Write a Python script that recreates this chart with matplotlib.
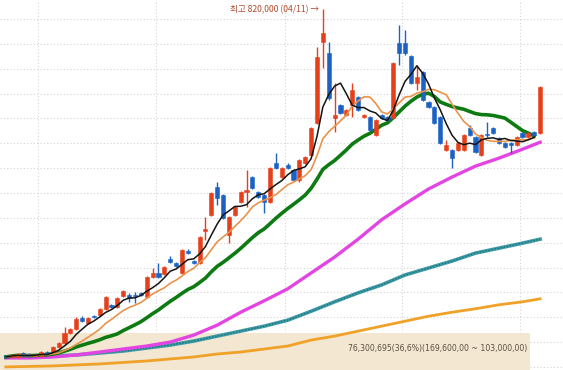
import numpy as np
import pandas as pd
import matplotlib
matplotlib.use("Agg")
import matplotlib.pyplot as plt
from matplotlib.patches import Rectangle

# daily candles, prices in thousand won (red = up, blue = down)
opens = [122, 120, 120, 128, 126, 122, 122, 130, 130, 140,
         148, 168, 176, 198, 188, 202, 204, 217, 225, 221,
         243, 245, 245, 249, 241, 281, 289, 287, 317, 309,
         289, 333, 313, 309, 373, 406, 462, 446, 365, 406,
         432, 452, 482, 452, 446, 432, 510, 482, 506, 496,
         476, 510, 526, 591, 754, 732, 601, 627, 607, 627,
         643, 603, 603, 567, 607, 603, 601, 752, 752, 726,
         671, 693, 633, 623, 603, 536, 536, 536, 536, 581,
         563, 526, 569, 581, 561, 551, 551, 546, 571, 563,
         573, 571]
highs = [124, 126, 128, 130, 128, 126, 132, 132, 142, 150,
         180, 178, 200, 202, 200, 204, 219, 243, 227, 241,
         255, 249, 251, 251, 283, 299, 309, 303, 323, 311,
         337, 337, 315, 363, 402, 452, 472, 448, 404, 424,
         454, 496, 484, 454, 448, 502, 530, 502, 510, 498,
         518, 524, 583, 744, 820, 754, 671, 629, 619, 671,
         645, 609, 605, 599, 609, 605, 713, 788, 778, 728,
         707, 695, 635, 625, 605, 557, 538, 553, 569, 587,
         565, 569, 593, 583, 563, 553, 553, 565, 573, 573,
         575, 665]
lows = [118, 118, 118, 120, 120, 120, 120, 124, 128, 138,
        146, 166, 174, 190, 186, 198, 202, 215, 219, 219,
        241, 231, 229, 243, 239, 279, 279, 285, 309, 301,
        287, 327, 307, 307, 355, 404, 426, 398, 349, 404,
        430, 422, 458, 440, 410, 430, 498, 480, 498, 474,
        472, 508, 524, 589, 701, 637, 573, 609, 605, 603,
        615, 601, 575, 565, 599, 595, 599, 707, 728, 669,
        657, 635, 621, 589, 549, 534, 500, 534, 534, 565,
        530, 524, 563, 569, 549, 540, 530, 544, 561, 561,
        565, 569]
closes = [120, 124, 126, 122, 122, 124, 130, 126, 140, 148,
          168, 176, 196, 192, 198, 200, 217, 241, 221, 239,
          253, 239, 243, 245, 281, 289, 281, 301, 311, 303,
          335, 329, 309, 361, 377, 450, 440, 400, 402, 422,
          452, 456, 460, 442, 432, 500, 500, 500, 500, 476,
          516, 522, 581, 724, 772, 641, 607, 611, 617, 657,
          617, 607, 577, 597, 601, 597, 711, 732, 732, 671,
          683, 637, 623, 591, 551, 546, 520, 551, 567, 567,
          532, 567, 567, 571, 551, 542, 546, 563, 563, 571,
          567, 663]

# long moving averages every 4 candles
ma_idx = [0, 4, 8, 12, 16, 20, 24, 28, 32, 36, 40, 44,
          48, 52, 56, 60, 64, 68, 72, 76, 80, 84, 88, 91]
ma60 = [118, 118, 120, 124, 130, 136, 142, 150, 164, 184, 210, 233,
        257, 289, 321, 357, 396, 428, 458, 482, 504, 520, 538, 552]
ma120 = [120, 121, 122, 124, 128, 132, 138, 144, 152, 162, 172, 182,
         194, 212, 231, 249, 265, 285, 299, 313, 329, 339, 349, 357]
ma240 = [100, 101, 102, 104, 106, 109, 112, 116, 120, 126, 130, 136,
         142, 154, 162, 172, 182, 192, 202, 210, 217, 225, 231, 237]

grid_prices = list(range(100, 850, 50))
month_breaks = [5.5, 25.5, 47.5, 67.5, 87.5]

RED = "#e5401b"
BLUE = "#1c62c4"

x = np.arange(len(closes))
o = np.array(opens)
c = np.array(closes)
up = c >= o
colors = np.where(up, RED, BLUE)

fig = plt.figure(figsize=(5.63, 3.70), dpi=100)
ax = fig.add_axes([0, 0, 1, 1])
ax.set_xlim(-0.99, 94.9)
ax.set_ylim(93.8, 838.2)
ax.set_axis_off()

for gp in grid_prices:
    ax.axhline(gp, color="#d4d4d4", lw=0.8, ls=(0, (1, 2)), zorder=1)
for mb in month_breaks:
    ax.axvline(mb, color="#d4d4d4", lw=0.8, ls=(0, (1, 2)), zorder=1)

ax.add_patch(Rectangle((0, 0), 530 / 563, 37 / 370, transform=ax.transAxes,
                       facecolor="#f3e7d2", edgecolor="none", zorder=1.5))
ax.text(527 / 563, 21 / 370, "76,300,695(36,6%)(169,600,00 ~ 103,000,00)",
        transform=ax.transAxes, ha="right", va="center", fontsize=5.6,
        color="#5b5142", family=["Liberation Sans Narrow", "DejaVu Sans"], zorder=6)

# moving averages
closes_s = pd.Series(closes, dtype=float)
ma5 = closes_s.rolling(5, min_periods=1).mean()
ma10 = closes_s.rolling(10, min_periods=1).mean()
ma20 = closes_s.rolling(20, min_periods=1).mean()

ax.plot(ma_idx, ma240, color="#f0a128", lw=2.0, zorder=2)
ax.plot(ma_idx, ma120, color="#3d9ba6", lw=2.6, zorder=2)
ax.plot(ma_idx, ma120, color="#1f6f78", lw=1.0, ls=(0, (1, 1.2)), zorder=2.1)
ax.plot(ma_idx, ma60, color="#e345e3", lw=2.4, zorder=2.2)
ax.plot(x[:-1], ma20[:-1], color="#0d7a12", lw=2.6, zorder=2.3)

# candles
ax.vlines(x, lows, highs, colors=colors, lw=1.0, zorder=3)
body = np.maximum(np.abs(c - o), 1.2)
ax.bar(x, body, bottom=np.minimum(o, c), width=0.7, color=colors,
       edgecolor=colors, lw=0.4, zorder=3.1)

ax.plot(x[:-1], ma10[:-1], color="#e8934a", lw=1.2, zorder=4)
ax.plot(x[:-1], ma5[:-1], color="#141414", lw=1.1, zorder=4.1)

# highest price label
imax = int(np.argmax(highs))
ax.text(imax - 0.6, highs[imax] - 2, f"최고 {highs[imax]},000 (04/11) →",
        ha="right", va="center", fontsize=6.2, color="#b0492e",
        family=["Noto Sans CJK KR", "DejaVu Sans"], zorder=6)

fig.savefig("out.png", dpi=100)
